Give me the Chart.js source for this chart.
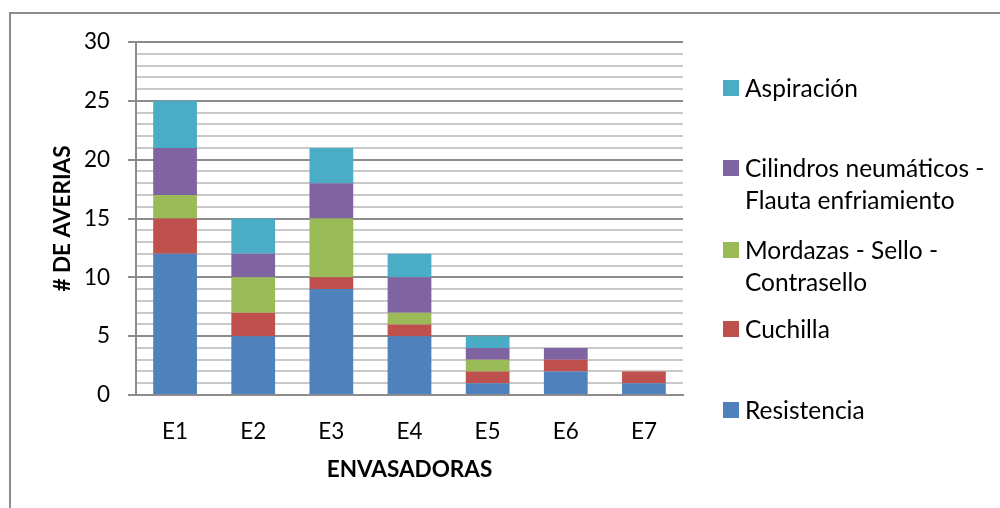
<!DOCTYPE html>
<html>
<head>
<meta charset="utf-8">
<script src="https://cdn.jsdelivr.net/npm/chart.js@4.4.1/dist/chart.umd.min.js"></script>
<style>
  html, body { margin: 0; padding: 0; background: #ffffff; }
  #wrap { position: absolute; left: 0; top: 0; width: 1000px; height: 508px; overflow: hidden; }
  #frame { position: absolute; left: 9px; top: 12px; width: 1000px; height: 600px;
           border-left: 2px solid #8c8c8c; border-top: 2px solid #8c8c8c; }
  #cv { position: absolute; left: 0; top: 0; }
  .lg-box { position: absolute; width: 16px; height: 16px; }
  .lg-text { position: absolute; font-family: Lato, "Open Sans", sans-serif; font-size: 24.5px;
             line-height: 32px; color: #000; white-space: nowrap; }
</style>
</head>
<body>
<div id="wrap">
  <div id="frame"></div>
  <canvas id="cv" width="1000" height="508"></canvas>
  <div id="legend"></div>
</div>
<script>
// ---- data ----
const categories = ['E1', 'E2', 'E3', 'E4', 'E5', 'E6', 'E7'];
const resistencia = [12, 5, 9, 5, 1, 2, 1];
const cuchilla    = [3, 2, 1, 1, 1, 1, 1];
const mordazas    = [2, 3, 5, 1, 1, 0, 0];
const cilindros   = [4, 2, 3, 3, 1, 1, 0];
const aspiracion  = [4, 3, 3, 2, 1, 0, 0];
const seriesNames = ['Resistencia', 'Cuchilla', 'Mordazas - Sello - Contrasello',
                     'Cilindros neumáticos - Flauta enfriamiento', 'Aspiración'];
const legendLines = [['Resistencia'], ['Cuchilla'], ['Mordazas - Sello -', 'Contrasello'],
                     ['Cilindros neumáticos -', 'Flauta enfriamiento'], ['Aspiración']];
const yTickLabels = [0, 5, 10, 15, 20, 25, 30];
const yTitle = '# DE AVERIAS';
const xTitle = 'ENVASADORAS';

// ---- styles ----
const colors = ['#4F81BD', '#C0504D', '#9BBB59', '#8064A2', '#4BACC6'];
const seriesValues = [resistencia, cuchilla, mordazas, cilindros, aspiracion];
const legendCenters = [410, 329, 250, 168, 88]; // vertical center of first line
const FONT = 'Lato, "Open Sans", sans-serif';

const datasets = seriesValues.map((vals, i) => ({
  label: seriesNames[i],
  data: vals,
  backgroundColor: colors[i],
  borderWidth: 0,
  barPercentage: 0.56,
  categoryPercentage: 1.0
}));

new Chart(document.getElementById('cv'), {
  type: 'bar',
  data: { labels: categories, datasets: datasets },
  options: {
    responsive: false,
    animation: false,
    events: [],
    layout: { padding: { left: 0, right: 317, top: 42, bottom: 0 } },
    plugins: { legend: { display: false }, tooltip: { enabled: false } },
    scales: {
      x: {
        stacked: true,
        grid: { display: false, drawTicks: false },
        border: { display: true, color: '#8c8c8c', width: 2 },
        ticks: { color: '#000', font: { family: FONT, size: 22.5 }, padding: 23 },
        title: { display: true, text: xTitle, color: '#000',
                 font: { family: FONT, size: 22.5, weight: 'bold' }, padding: { top: 0, bottom: 24.5 } },
        afterFit: (s) => { s.height = 113; }
      },
      y: {
        stacked: true,
        min: 0, max: 30,
        ticks: {
          stepSize: 1, autoSkip: false, color: '#000',
          font: { family: FONT, size: 22.5 }, padding: 18,
          callback: (v) => yTickLabels.includes(v) ? String(v) : ''
        },
        grid: {
          color: (c) => (c.tick && c.tick.value % 5 === 0) ? '#8c8c8c' : '#c9c9c9',
          lineWidth: 2,
          tickLength: 8,
          tickColor: (c) => (c.tick && c.tick.value % 5 === 0) ? '#8c8c8c' : 'rgba(0,0,0,0)',
          tickWidth: 2
        },
        border: { display: true, color: '#8c8c8c', width: 2 },
        title: { display: true, text: yTitle, color: '#000',
                 font: { family: FONT, size: 22.5, weight: 'bold' }, padding: { top: 49.5, bottom: 0 } },
        afterFit: (s) => { s.width = 136; }
      }
    }
  }
});

// ---- HTML legend ----
const lg = document.getElementById('legend');
legendLines.forEach((lines, i) => {
  const c = legendCenters[i];
  const box = document.createElement('div');
  box.className = 'lg-box';
  box.style.left = '723px';
  box.style.top = (c - 8) + 'px';
  box.style.background = colors[i];
  lg.appendChild(box);
  const t = document.createElement('div');
  t.className = 'lg-text';
  t.style.left = '745px';
  t.style.top = (c - 16) + 'px';
  t.innerHTML = lines.join('<br>');
  lg.appendChild(t);
});
</script>
</body>
</html>
